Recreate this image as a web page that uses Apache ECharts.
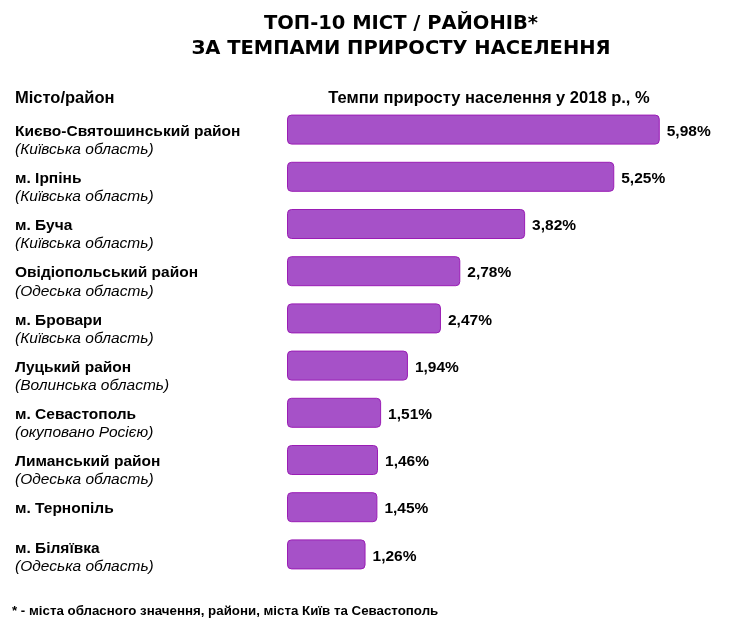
<!DOCTYPE html>
<html>
<head>
<meta charset="utf-8">
<script src="https://cdn.jsdelivr.net/npm/echarts@6/dist/echarts.min.js"></script>
<style>
  html, body { margin: 0; padding: 0; background: #fff; }
  #chart { width: 737px; height: 624px; }
</style>
</head>
<body>
<div id="chart"></div>
<script>
// data
const cities = [
  'Києво-Святошинський район',
  'м. Ірпінь',
  'м. Буча',
  'Овідіопольський район',
  'м. Бровари',
  'Луцький район',
  'м. Севастополь',
  'Лиманський район',
  'м. Тернопіль',
  'м. Біляївка'
];
const regions = [
  '(Київська область)',
  '(Київська область)',
  '(Київська область)',
  '(Одеська область)',
  '(Київська область)',
  '(Волинська область)',
  '(окуповано Росією)',
  '(Одеська область)',
  '',
  '(Одеська область)'
];
const growth = [5.98, 5.25, 3.82, 2.78, 2.47, 1.94, 1.51, 1.46, 1.45, 1.26];

const font = '"Liberation Sans", Arial, sans-serif';
const heavy = '"DejaVu Sans", "Liberation Sans", sans-serif';

let chart = echarts.init(document.getElementById('chart'));

let categories = cities.map(function (c, i) {
  let item = { value: c + '\n' + regions[i] };
  if (i === cities.length - 1) {
    // last row sits a little higher in the original
    item.textStyle = { align: 'left', padding: [6, 0, 0, 0] };
  }
  return item;
});

let option = {
  backgroundColor: '#fff',
  animation: false,
  title: [{
    text: 'ТОП-10 МІСТ / РАЙОНІВ*\nЗА ТЕМПАМИ ПРИРОСТУ НАСЕЛЕННЯ',
    left: 401,
    top: 11,
    padding: 0,
    textAlign: 'center',
    textStyle: { fontFamily: heavy, fontSize: 19.5, fontWeight: 'bold', color: '#000', lineHeight: 25 }
  }, {
    text: 'Місто/район',
    left: 15,
    top: 90,
    padding: 0,
    textStyle: { fontFamily: font, fontSize: 16.5, fontWeight: 'bold', color: '#000' }
  }, {
    text: 'Темпи приросту населення у 2018 р., %',
    left: 489,
    top: 90,
    padding: 0,
    textAlign: 'center',
    textStyle: { fontFamily: font, fontSize: 16.5, fontWeight: 'bold', color: '#000' }
  }, {
    text: '* - міста обласного значення, райони, міста Київ та Севастополь',
    left: 12,
    top: 605,
    padding: 0,
    textStyle: { fontFamily: font, fontSize: 13.3, fontWeight: 'bold', color: '#000' }
  }],
  grid: { left: 287, right: 76, top: 106, bottom: 46, outerBoundsMode: 'none', containLabel: false },
  xAxis: {
    type: 'value',
    min: 0,
    max: 6,
    show: false
  },
  yAxis: {
    type: 'category',
    inverse: true,
    data: categories,
    axisLine: { show: false },
    axisTick: { show: false },
    axisLabel: {
      align: 'left',
      margin: 272,
      padding: [22, 0, 0, 0],
      formatter: function (v) {
        let parts = v.split('\n');
        return '{n|' + parts[0] + '}\n{r|' + (parts[1] || ' ') + '}';
      },
      rich: {
        n: { fontFamily: font, fontSize: 15.5, fontWeight: 'bold', color: '#000', lineHeight: 18 },
        r: { fontFamily: font, fontSize: 15.5, fontStyle: 'italic', color: '#000', lineHeight: 18 }
      }
    }
  },
  series: [{
    type: 'bar',
    data: growth,
    barWidth: 30,
    itemStyle: {
      color: '#a651c8',
      borderColor: '#9a1db5',
      borderWidth: 1,
      borderRadius: 4
    },
    label: {
      show: true,
      position: 'right',
      distance: 7,
      offset: [0, 2],
      fontFamily: font,
      fontSize: 15.5,
      fontWeight: 'bold',
      color: '#000',
      formatter: function (p) {
        return p.value.toFixed(2).replace('.', ',') + '%';
      }
    }
  }]
};

chart.setOption(option);
</script>
</body>
</html>
